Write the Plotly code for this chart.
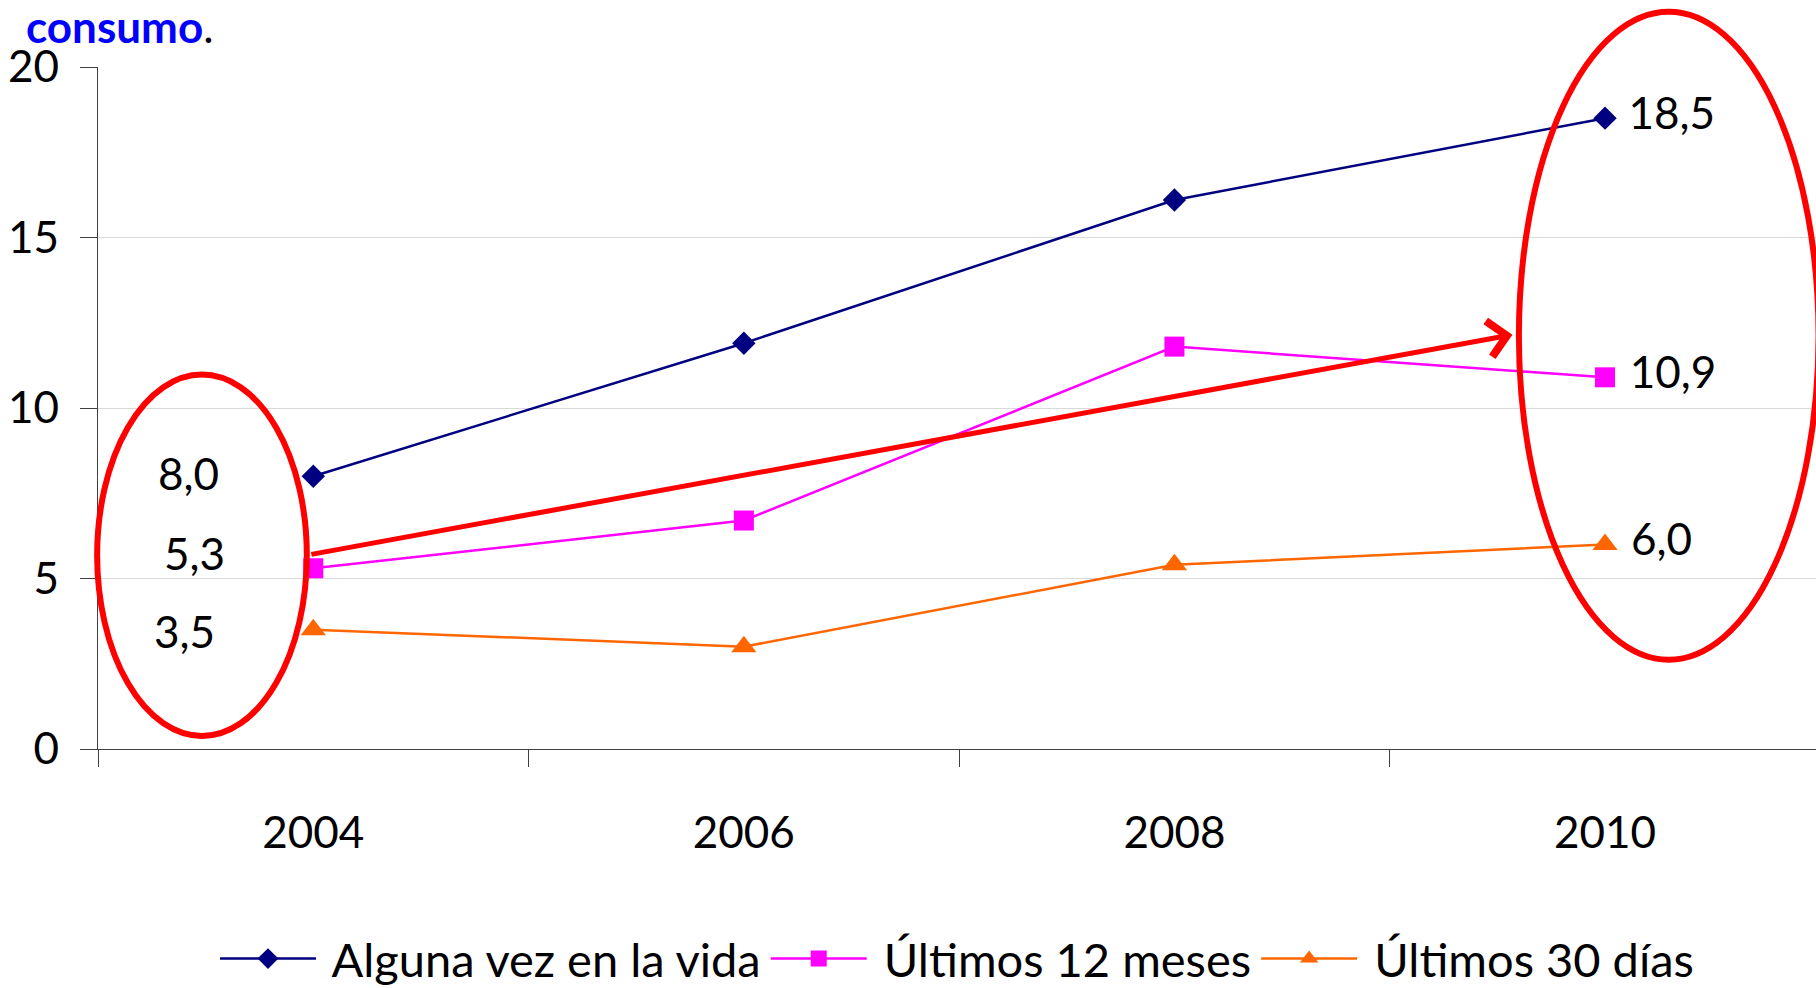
import plotly.graph_objects as go

# datos
YEARS = ["2004", "2006", "2008", "2010"]
ALGUNA_VEZ = [8.0, 11.9, 16.1, 18.5]
ULTIMOS_12 = [5.3, 6.7, 11.8, 10.9]
ULTIMOS_30 = [3.5, 3.0, 5.4, 6.0]
SERIES_NAMES = ["Alguna vez en la vida", "Últimos 12 meses", "Últimos 30 días"]
Y_TICKS = [0, 5, 10, 15, 20]

FONT = "Lato"
TXT = 44
X_RANGE = [-0.5, 3.49]
Y_RANGE = [0, 20]
NBSP = "\u00a0"


def fmt(v):
    return f"{v:.1f}".replace(".", ",")


def dom_x(v):
    return (v - X_RANGE[0]) / (X_RANGE[1] - X_RANGE[0])


def dom_y(v):
    return (v - Y_RANGE[0]) / (Y_RANGE[1] - Y_RANGE[0])


fig = go.Figure()

styles = [
    dict(color="#000080", symbol="diamond", size=18),
    dict(color="#FF00FF", symbol="square", size=20),
    dict(color="#FF6600", symbol="triangle-up", size=22),
]

for name, vals, st in zip(SERIES_NAMES, [ALGUNA_VEZ, ULTIMOS_12, ULTIMOS_30], styles):
    # solo se etiqueta el último año
    labels = [""] * (len(vals) - 1) + [NBSP + fmt(vals[-1])]
    fig.add_trace(
        go.Scatter(
            x=YEARS,
            y=vals,
            name=NBSP + name,
            mode="lines+markers+text",
            text=labels,
            textposition="middle right",
            textfont=dict(family=FONT, size=TXT, color="black"),
            line=dict(color=st["color"], width=2.5),
            marker=dict(symbol=st["symbol"], size=st["size"], color=st["color"]),
            cliponaxis=False,
        )
    )

# valores de 2004 escritos dentro de la elipse izquierda
left_label_pos = [(-0.289, 8.09), (-0.275, 5.76), (-0.298, 3.45)]
for (lx, ly), vals in zip(left_label_pos, [ALGUNA_VEZ, ULTIMOS_12, ULTIMOS_30]):
    fig.add_annotation(
        x=lx, y=ly, xref="x", yref="y", text=fmt(vals[0]), showarrow=False,
        font=dict(family=FONT, size=TXT, color="black"),
    )

# flecha roja de tendencia
fig.add_annotation(
    x=2.785, y=12.15, ax=-0.008, ay=5.70,
    xref="x", yref="y", axref="x", ayref="y",
    text="", showarrow=True, arrowhead=4, arrowsize=1.4,
    arrowwidth=5, arrowcolor="#FF0000", standoff=0,
)

# elipses rojas
for x0, x1, y0, y1 in [(-0.502, -0.015, 0.38, 10.98), (2.80, 3.496, 2.62, 21.62)]:
    fig.add_shape(
        type="circle", xref="x domain", yref="y domain",
        x0=dom_x(x0), x1=dom_x(x1), y0=dom_y(y0), y1=dom_y(y1),
        line=dict(color="#FF0000", width=6), layer="above",
    )

fig.update_layout(
    width=1816,
    height=988,
    paper_bgcolor="white",
    plot_bgcolor="white",
    font=dict(family=FONT, size=TXT, color="black"),
    margin=dict(l=98, r=0, t=67, b=239, autoexpand=False),
    title=dict(
        text="<b><span style='color:#0000FF'>consumo</span></b>.",
        x=0.0143, xref="container", xanchor="left",
        y=0.972, yref="container", yanchor="middle",
        font=dict(family=FONT, size=TXT, color="black"),
    ),
    showlegend=True,
    legend=dict(
        orientation="h",
        x=0.5, xanchor="center",
        y=1 - 959 / 988, yref="container", yanchor="middle",
        font=dict(family=FONT, size=47, color="black"),
        itemwidth=96,
    ),
    xaxis=dict(
        type="category",
        range=X_RANGE,
        showline=True, linecolor="#404040", linewidth=1.3,
        ticks="outside", ticklen=17, tickcolor="#404040", tickwidth=1.3,
        tickson="boundaries",
        showgrid=False,
        ticklabelstandoff=45,
        tickfont=dict(family=FONT, size=TXT, color="black"),
    ),
    yaxis=dict(
        range=Y_RANGE,
        tickvals=Y_TICKS,
        showline=True, linecolor="#404040", linewidth=1.3,
        ticks="outside", ticklen=17, tickcolor="#404040", tickwidth=1.3,
        showgrid=True, gridcolor="#D9D9D9", gridwidth=1,
        zeroline=False,
        ticklabelstandoff=12,
        tickfont=dict(family=FONT, size=TXT, color="black"),
    ),
)

# sin margen del body para que la figura quede en (0, 0)
fig.write_html(
    "out.html",
    config={"displayModeBar": False},
    post_script="document.body.style.margin='0';",
)
